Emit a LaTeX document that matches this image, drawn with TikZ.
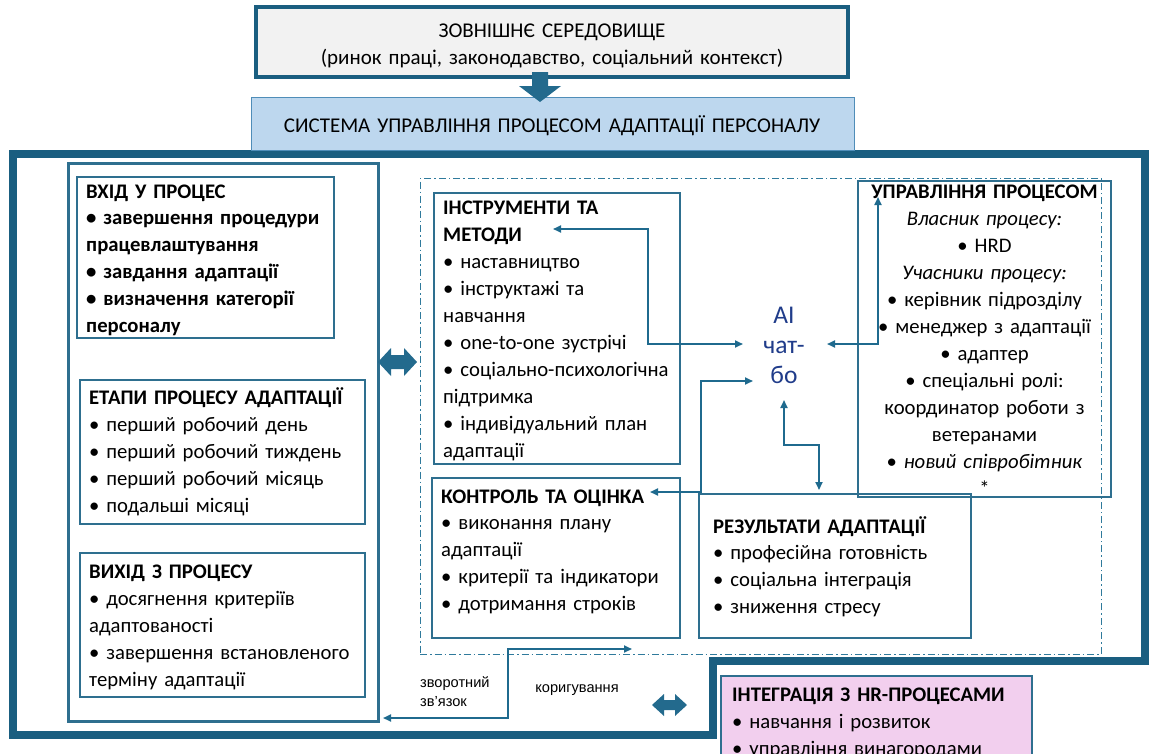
\documentclass[tikz,border=0pt]{standalone}
\usepackage{fontspec}
\setmainfont{Carlito}
\newfontfamily\smallsans{Liberation Sans}
\usetikzlibrary{arrows.meta,fit}
\definecolor{framec}{HTML}{1A5E80}
\definecolor{boxline}{HTML}{2E6F8F}
\definecolor{connc}{HTML}{1F6A8E}
\definecolor{dashc}{HTML}{2F7A9C}
\definecolor{graybg}{HTML}{F2F2F2}
\definecolor{bluebg}{HTML}{BDD7EE}
\definecolor{blueline}{HTML}{4F8DB8}
\definecolor{pinkbg}{HTML}{F2CFEE}
\definecolor{ainavy}{HTML}{203C8A}
\definecolor{blockc}{HTML}{236A8D}
\begin{document}
\begin{tikzpicture}[x=1pt,y=-1pt,
  box/.style={draw=boxline, line width=1.3pt, inner sep=0pt},
  txt/.style={inner sep=0pt, anchor=base west, align=left, text width=#1,
    font=\fontsize{20.7}{27}\selectfont},
  ctxt/.style={inner sep=0pt, anchor=base, align=center, text width=#1,
    font=\fontsize{20.7}{27}\selectfont},
  small/.style={inner sep=0pt, anchor=base west, align=left, text width=#1,
    font=\smallsans\fontsize{14.6}{19.5}\selectfont},
  link/.style={draw=connc, line width=1.8pt,
    {Triangle[length=8pt,width=7pt]}-{Triangle[length=8pt,width=7pt]}}
]
\useasboundingbox (0,0) rectangle (1151,753);

% outer thick frame
\draw[framec, line width=7.5pt, line join=miter]
  (13,154) -- (1145,154) -- (1145,661) -- (713,661) -- (713,735) -- (13,735) -- cycle;

% top box
\node[draw=framec, line width=4pt, fill=graybg, inner sep=0pt,
      fit={(256,7)(848,77)}] (env) {};
\node[ctxt=560pt, font=\fontsize{21}{27}\selectfont] (envT) at (552,37)
  {ЗОВНІШНЄ СЕРЕДОВИЩЕ\\(ринок праці, законодавство, соціальний контекст)};

% system box
\node[draw=blueline, line width=1pt, fill=bluebg, inner sep=0pt,
      fit={(251,97)(854,150)}] (sys) {};
\node[ctxt=600pt, font=\fontsize{21}{27}\selectfont] (sysT) at (552,132)
  {СИСТЕМА УПРАВЛІННЯ ПРОЦЕСОМ АДАПТАЦІЇ ПЕРСОНАЛУ};

% block arrow down
\fill[blockc] (532,72) -- (548,72) -- (548,86) -- (561,86) -- (540,102) -- (519,86) -- (532,86) -- cycle;

% left column
\node[draw=boxline, line width=3pt, inner sep=0pt, fit={(68,163)(378,721)}] (leftcol) {};

\node[box, fit={(77,177)(334,338)}] (vhid) {};
\node[txt=245pt, font=\fontsize{20.7}{26.8}\selectfont\bfseries] (vhidT) at (86,198)
  {ВХІД У ПРОЦЕС\\• завершення процедури\\працевлаштування\\• завдання адаптації\\• визначення категорії\\персоналу};

\node[box, fit={(80,380)(365,524)}] (etapy) {};
\node[txt=275pt] (etapyT) at (89,404)
  {\textbf{ЕТАПИ ПРОЦЕСУ АДАПТАЦІЇ}\\• перший робочий день\\• перший робочий тиждень\\• перший робочий місяць\\• подальші місяці};

\node[box, fit={(80,553)(365,697)}] (vyhid) {};
\node[txt=275pt] (vyhidT) at (89,578)
  {\textbf{ВИХІД З ПРОЦЕСУ}\\• досягнення критеріїв\\адаптованості\\• завершення встановленого\\терміну адаптації};

% double block arrow (left)
\fill[blockc] (378,362) -- (391,348) -- (391,355) -- (404,355) -- (404,348) -- (417,362)
  -- (404,376) -- (404,369) -- (391,369) -- (391,376) -- cycle;

% dash-dot region
\node[draw=dashc, line width=0.9pt, dash pattern=on 7pt off 3pt on 1.5pt off 3pt,
      inner sep=0pt, fit={(420,178)(1101,654)}] (core) {};

\node[box, fit={(434,193)(680,464)}] (instr) {};
\node[txt=240pt] (instrT) at (443,214)
  {\textbf{ІНСТРУМЕНТИ ТА}\\\textbf{МЕТОДИ}\\• наставництво\\• інструктажі та\\навчання\\• one-to-one зустрічі\\• соціально-психологічна\\підтримка\\• індивідуальний план\\адаптації};

\node[box, fit={(858,181)(1111,497)}] (upr) {};
\node[ctxt=253pt] (uprT) at (984.5,198)
  {\textbf{УПРАВЛІННЯ ПРОЦЕСОМ}\\\textit{Власник процесу:}\\• HRD\\\textit{Учасники процесу:}\\• керівник підрозділу\\• менеджер з адаптації\\• адаптер\\• спеціальні ролі:\\координатор роботи з\\ветеранами\\• \textit{новий співробітник}\\\relax *};

\node[box, fit={(432,478)(680,638)}] (kontr) {};
\node[txt=240pt, font=\fontsize{20.7}{26.8}\selectfont] (kontrT) at (441,503)
  {\textbf{КОНТРОЛЬ ТА ОЦІНКА}\\• виконання плану\\адаптації\\• критерії та індикатори\\• дотримання строків};

\node[box, fit={(699,494)(971,638)}] (rez) {};
\node[txt=255pt, font=\fontsize{20.7}{26.8}\selectfont] (rezT) at (713,533)
  {\textbf{РЕЗУЛЬТАТИ АДАПТАЦІЇ}\\• професійна готовність\\• соціальна інтеграція\\• зниження стресу};

% AI chat-bot
\node[inner sep=0pt, anchor=base, align=center, text width=70pt, text=ainavy,
      font=\fontsize{25.5}{30}\selectfont] (ai) at (784,323) {AI\\чат-\\бо};

% integration box
\node[draw=boxline, line width=1.3pt, fill=pinkbg, inner sep=0pt,
      fit={(721,676)(1032,775)}] (integ) {};
\node[txt=300pt] (integT) at (732,701)
  {\textbf{ІНТЕГРАЦІЯ З HR-ПРОЦЕСАМИ}\\• навчання і розвиток\\• управління винагородами};

% connector end points
\coordinate (aiW1) at (743,344);
\coordinate (aiE1) at (827,344);
\coordinate (aiW2) at (753,381);
\coordinate (aiS) at (784,400);
\coordinate (instrP) at (553,229);
\coordinate (uprP) at (878,197);
\coordinate (kontrP) at (650,492);
\coordinate (rezP) at (819,490);
\coordinate (coreP) at (632,649);
\coordinate (leftP) at (383,718);

\draw[link] (instrP) -- (648,229) -- (648,344) -- (aiW1);
\draw[link] (aiE1) -- (878,344) -- (uprP);
\draw[link] (aiW2) -- (701,381) -- (701,492) -- (kontrP);
\draw[link] (aiS) -- (784,445) -- (819,445) -- (rezP);
\draw[link] (coreP) -- (508,649) -- (508,718) -- (leftP);

\node[small=85pt] (fbT) at (420,687) {зворотний\\зв’язок};
\node[small=100pt, anchor=base, align=center] (corT) at (577,692) {коригування};

% double block arrow (bottom)
\fill[blockc] (652,705) -- (664,694) -- (664,700) -- (675,700) -- (675,694) -- (687,705)
  -- (675,716) -- (675,710) -- (664,710) -- (664,716) -- cycle;

\end{tikzpicture}
\end{document}
